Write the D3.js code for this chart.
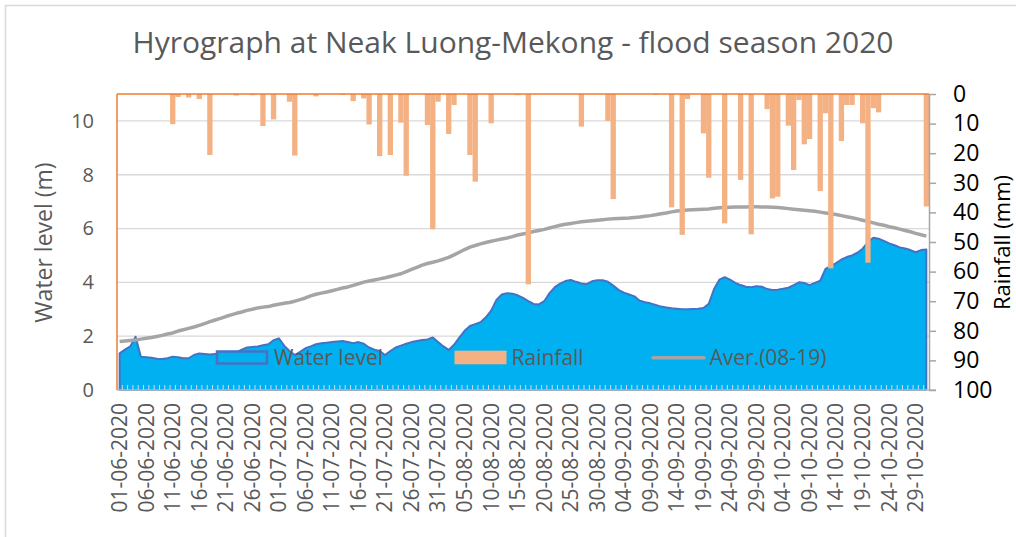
<!DOCTYPE html>
<html lang="en">
  <head>
    <meta charset="utf-8">
    <title>Hydrograph Neak Luong</title>
    <style>
      body { margin: 0; background: #fff; }
      svg text { font-family: "Open Sans", sans-serif; }
    </style>
    <script src="https://d3js.org/d3.v7.min.js"></script>
  </head>
  <body>
    <svg id="chart" width="1016" height="537"></svg>
    <script>

// ---- data ----
var startDay = new Date(2020, 5, 1);   // 01-06-2020
var endDay = new Date(2020, 10, 1);    // up to 31-10-2020

// water level (m), one value per day
var waterJun = [1.36, 1.5, 1.62, 1.98, 1.24, 1.22, 1.2, 1.16, 1.15, 1.18,
                1.24, 1.22, 1.18, 1.18, 1.3, 1.36, 1.34, 1.32, 1.34, 1.35,
                1.36, 1.38, 1.4, 1.5, 1.58, 1.6, 1.62, 1.66, 1.7, 1.85];
var waterJul = [1.92, 1.65, 1.45, 1.3, 1.42, 1.55, 1.62, 1.7, 1.74, 1.76,
                1.78, 1.8, 1.82, 1.78, 1.74, 1.78, 1.72, 1.58, 1.5, 1.45,
                1.3, 1.45, 1.58, 1.65, 1.72, 1.78, 1.82, 1.86, 1.88, 1.95,
                1.78];
var waterAug = [1.62, 1.49, 1.68, 1.95, 2.2, 2.38, 2.45, 2.52, 2.7, 2.95,
                3.35, 3.55, 3.6, 3.58, 3.52, 3.42, 3.3, 3.2, 3.18, 3.3,
                3.6, 3.82, 3.95, 4.05, 4.09, 4.02, 3.96, 3.93, 4.04, 4.08,
                4.08];
var waterSep = [4.02, 3.88, 3.72, 3.62, 3.55, 3.48, 3.32, 3.26, 3.22, 3.16,
                3.1, 3.07, 3.04, 3.02, 3.0, 3.0, 3.01, 3.02, 3.05, 3.2,
                3.75, 4.1, 4.19, 4.1, 3.98, 3.9, 3.84, 3.82, 3.86, 3.84];
var waterOct = [3.75, 3.72, 3.73, 3.76, 3.8, 3.9, 4.0, 3.98, 3.9, 3.98,
                4.06, 4.5, 4.6, 4.72, 4.85, 4.94, 5.0, 5.1, 5.25, 5.5,
                5.66, 5.62, 5.54, 5.45, 5.38, 5.3, 5.26, 5.2, 5.12, 5.2,
                5.22];

// daily rainfall (mm)
var rainJun = [0, 0, 0, 0, 0, 0, 0, 0, 0, 0,
               10.2, 1, 0, 1.2, 0, 1.7, 0, 20.6, 0, 0,
               0, 0, 0.5, 0, 0, 0.4, 0, 10.8, 0, 8.6];
var rainJul = [0, 0, 2.6, 20.8, 0, 0, 0, 0.8, 0, 0,
               0, 0, 0.3, 0, 2.4, 0, 1.5, 10.3, 0, 21,
               0, 20.6, 0, 9.7, 27.6, 0, 0, 0, 10.5, 45.7,
               2.6];
var rainAug = [0, 13.5, 3.7, 0, 0, 20.6, 29.6, 0, 0, 9.9,
               0, 0, 0, 0, 0.4, 0, 64.3, 0, 0, 0,
               0, 0, 0, 0, 0, 0, 11, 0, 0, 0,
               0];
var rainSep = [9.1, 35.5, 0, 0, 0, 0, 0, 0, 0, 0.3,
               0, 0, 38.3, 0, 47.6, 1.7, 0, 0, 13.3, 28.3,
               0, 0, 43.7, 0, 0, 29, 0, 47.4, 0, 0];
var rainOct = [5.1, 35.3, 34.7, 0, 10.7, 25.7, 2, 17, 15.2, 0,
               32.8, 6.5, 58.9, 0, 15.9, 3.7, 3.7, 0, 9.9, 57,
               4.8, 6.2, 0, 0, 0, 0, 0, 0, 0, 0,
               38];

// average water level 2008-2019 (m)
var avgJun = [1.8, 1.82, 1.84, 1.86, 1.89, 1.92, 1.95, 1.99, 2.03, 2.08,
              2.12, 2.19, 2.24, 2.29, 2.34, 2.4, 2.47, 2.54, 2.6, 2.66,
              2.73, 2.79, 2.85, 2.9, 2.96, 3.0, 3.05, 3.08, 3.1, 3.15];
var avgJul = [3.19, 3.22, 3.25, 3.3, 3.36, 3.42, 3.5, 3.56, 3.6, 3.64,
              3.69, 3.74, 3.79, 3.83, 3.89, 3.95, 4.01, 4.05, 4.09, 4.13,
              4.17, 4.22, 4.27, 4.32, 4.4, 4.48, 4.56, 4.64, 4.7, 4.75,
              4.8];
var avgAug = [4.86, 4.93, 5.02, 5.12, 5.22, 5.31, 5.37, 5.43, 5.48, 5.53,
              5.57, 5.61, 5.65, 5.7, 5.76, 5.8, 5.84, 5.89, 5.93, 5.97,
              6.02, 6.07, 6.12, 6.16, 6.19, 6.22, 6.25, 6.27, 6.29, 6.31,
              6.33];
var avgSep = [6.35, 6.36, 6.37, 6.38, 6.39, 6.41, 6.43, 6.46, 6.48, 6.51,
              6.55, 6.58, 6.62, 6.65, 6.67, 6.69, 6.7, 6.71, 6.72, 6.73,
              6.75, 6.77, 6.78, 6.79, 6.8, 6.8, 6.8, 6.81, 6.81, 6.8];
var avgOct = [6.8, 6.79, 6.78, 6.76, 6.74, 6.72, 6.7, 6.68, 6.66, 6.64,
              6.61, 6.58, 6.55, 6.52, 6.48, 6.44, 6.4, 6.36, 6.31, 6.26,
              6.21, 6.16, 6.12, 6.07, 6.03, 5.98, 5.93, 5.88, 5.82, 5.77,
              5.72];

var levelTicks = [0, 2, 4, 6, 8, 10];
var rainTicks = [0, 10, 20, 30, 40, 50, 60, 70, 80, 90, 100];
var labelEvery = 5;   // one date label every 5 days

// ---- build rows ----
var fmt = d3.timeFormat("%d-%m-%Y");
var days = d3.timeDay.range(startDay, endDay);
var level = [].concat(waterJun, waterJul, waterAug, waterSep, waterOct);
var rain = [].concat(rainJun, rainJul, rainAug, rainSep, rainOct);
var aver = [].concat(avgJun, avgJul, avgAug, avgSep, avgOct);

var rows = days.map(function(d, i) {
  return {label: fmt(d), level: level[i], rain: rain[i], aver: aver[i]};
});

// ---- layout ----
var plot = {left: 117, right: 929, top: 94, bottom: 390};
var grey = "#595959";

var svg = d3.select("#chart");

svg.append("rect")
  .attr("width", 1016).attr("height", 537).attr("fill", "#fff");

// chart border
svg.append("rect")
  .attr("x", 5.5).attr("y", 5.5)
  .attr("width", 1030).attr("height", 560)
  .attr("fill", "none")
  .attr("stroke", "#d9d9d9")
  .attr("stroke-width", 1.5);

var x = d3.scaleBand()
  .domain(rows.map(function(d) { return d.label; }))
  .range([plot.left, plot.right])
  .padding(0);
var bw = x.bandwidth();
function cx(d) { return x(d.label) + bw / 2; }

var yLevel = d3.scaleLinear().domain([0, 11]).range([plot.bottom, plot.top]);
var yRain = d3.scaleLinear().domain([0, 100]).range([plot.top, plot.bottom]);

// gridlines
svg.append("g")
  .selectAll("line")
  .data(levelTicks.filter(function(t) { return t > 0; }))
  .enter()
  .append("line")
    .attr("x1", plot.left).attr("x2", plot.right)
    .attr("y1", function(d) { return yLevel(d); })
    .attr("y2", function(d) { return yLevel(d); })
    .attr("stroke", "#d9d9d9")
    .attr("stroke-width", 1.3);

// water level area
var area = d3.area()
  .x(cx)
  .y0(yLevel(0))
  .y1(function(d) { return yLevel(d.level); });

svg.append("path")
  .datum(rows)
  .attr("d", area)
  .attr("fill", "#00B0F0")
  .attr("stroke", "#4472C4")
  .attr("stroke-width", 2)
  .attr("stroke-linejoin", "round");

// average line
var line = d3.line()
  .x(cx)
  .y(function(d) { return yLevel(d.aver); });

svg.append("path")
  .datum(rows)
  .attr("d", line)
  .attr("fill", "none")
  .attr("stroke", "#A5A5A5")
  .attr("stroke-width", 3.5)
  .attr("stroke-linejoin", "round");

// rainfall bars hanging from the top
svg.append("g")
  .selectAll("rect")
  .data(rows.filter(function(d) { return d.rain > 0; }))
  .enter()
  .append("rect")
    .attr("x", function(d) { return x(d.label); })
    .attr("y", yRain(0))
    .attr("width", bw)
    .attr("height", function(d) { return yRain(d.rain) - yRain(0); })
    .attr("fill", "#F4B183");

// small category ticks along the bottom
svg.append("g")
  .selectAll("line")
  .data(rows.slice(1))
  .enter()
  .append("line")
    .attr("x1", function(d) { return x(d.label); })
    .attr("x2", function(d) { return x(d.label); })
    .attr("y1", plot.bottom - 5).attr("y2", plot.bottom)
    .attr("stroke", "#d9d9d9")
    .attr("stroke-width", 1);

// bottom axis line
svg.append("line")
  .attr("x1", plot.left).attr("x2", plot.right + 7)
  .attr("y1", plot.bottom).attr("y2", plot.bottom)
  .attr("stroke", "#bfbfbf").attr("stroke-width", 1.5);

// orange top / left edges
svg.append("line")
  .attr("x1", plot.left).attr("x2", plot.right)
  .attr("y1", plot.top).attr("y2", plot.top)
  .attr("stroke", "#ED7D31").attr("stroke-width", 1.5);
svg.append("line")
  .attr("x1", plot.left).attr("x2", plot.left)
  .attr("y1", plot.top).attr("y2", plot.bottom)
  .attr("stroke", "#ED7D31").attr("stroke-width", 1.5);

// left axis
var leftAxis = svg.append("g")
  .attr("transform", "translate(" + plot.left + ",0)")
  .call(d3.axisLeft(yLevel).tickValues(levelTicks).tickSize(0).tickPadding(23));
leftAxis.select(".domain").remove();
leftAxis.selectAll("text")
  .attr("fill", grey)
  .style("font-size", "20px");

// right axis (rainfall, reversed)
var rightAxis = svg.append("g")
  .attr("transform", "translate(" + plot.right + ",0)")
  .call(d3.axisRight(yRain).tickValues(rainTicks).tickSize(7).tickSizeOuter(0).tickPadding(17));
rightAxis.select(".domain").attr("stroke", "#a6a6a6").attr("stroke-width", 1.5);
rightAxis.selectAll(".tick line").attr("stroke", "#a6a6a6").attr("stroke-width", 1.5);
rightAxis.selectAll("text")
  .attr("fill", "#000")
  .style("font-size", "23px");

// bottom axis labels
var bottomAxis = svg.append("g")
  .attr("transform", "translate(0," + plot.bottom + ")")
  .call(d3.axisBottom(x)
    .tickValues(x.domain().filter(function(d, i) { return i % labelEvery == 0; }))
    .tickSize(0));
bottomAxis.select(".domain").remove();
bottomAxis.selectAll("text")
  .attr("transform", "rotate(-90)")
  .attr("x", -13)
  .attr("y", 0)
  .attr("dy", "0.35em")
  .style("text-anchor", "end")
  .attr("fill", grey)
  .style("font-size", "21px");

// title
svg.append("text")
  .attr("x", 513).attr("y", 53)
  .attr("text-anchor", "middle")
  .attr("fill", grey)
  .style("font-size", "30px")
  .text("Hyrograph at Neak Luong-Mekong - flood season 2020");

// axis titles
svg.append("text")
  .attr("transform", "translate(51.5,242.5) rotate(-90)")
  .attr("text-anchor", "middle")
  .attr("fill", grey)
  .style("font-size", "23px")
  .text("Water level (m)");

svg.append("text")
  .attr("transform", "translate(1009.5,242.5) rotate(-90)")
  .attr("text-anchor", "middle")
  .attr("fill", "#000")
  .style("font-size", "22px")
  .text("Rainfall (mm)");

// legend
var legend = svg.append("g");
legend.append("rect")
  .attr("x", 217).attr("y", 351.5).attr("width", 50).attr("height", 12)
  .attr("fill", "#00B0F0").attr("stroke", "#4472C4").attr("stroke-width", 2.5);
legend.append("text")
  .attr("x", 274).attr("y", 365)
  .attr("fill", grey).style("font-size", "21px")
  .text("Water level");

legend.append("rect")
  .attr("x", 454.5).attr("y", 350.7).attr("width", 52).attr("height", 13.6)
  .attr("fill", "#F4B183");
legend.append("text")
  .attr("x", 511.5).attr("y", 365)
  .attr("fill", grey).style("font-size", "21px")
  .text("Rainfall");

legend.append("line")
  .attr("x1", 653).attr("x2", 704)
  .attr("y1", 357.7).attr("y2", 357.7)
  .attr("stroke", "#A5A5A5").attr("stroke-width", 3.5)
  .attr("stroke-linecap", "round");
legend.append("text")
  .attr("x", 709.5).attr("y", 365)
  .attr("fill", grey).style("font-size", "21px")
  .text("Aver.(08-19)");

    </script>
  </body>
</html>
